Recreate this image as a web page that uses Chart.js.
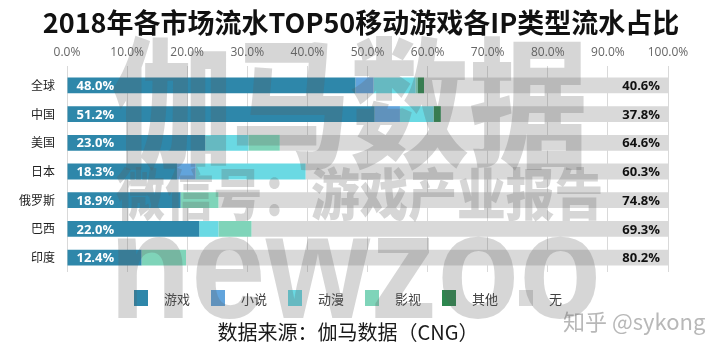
<!DOCTYPE html>
<html><head><meta charset="utf-8">
<script src="https://cdn.jsdelivr.net/npm/chart.js@4.4.1/dist/chart.umd.min.js"></script>
<style>
html,body{margin:0;padding:0;background:#fff;}
#wrap{position:relative;width:720px;height:357px;overflow:hidden;background:#fff;}
#c{position:absolute;left:0;top:0;}
#title{position:absolute;left:0;top:4px;width:722px;text-align:center;font:bold 27px "Noto Sans CJK SC",sans-serif;color:#111;line-height:36px;white-space:nowrap;}
#legend{position:absolute;top:289px;left:134px;display:flex;}
.li{width:77px;display:flex;align-items:center;height:18px;}
.sw{width:14px;height:16px;margin-right:16px;flex:none;}
.lt{font:13px "Noto Sans CJK SC",sans-serif;color:#404040;white-space:nowrap;}
#source{position:absolute;left:0;width:696px;top:318px;text-align:center;font:20px "Noto Sans CJK SC",sans-serif;color:#1a1a1a;line-height:28px;white-space:nowrap;}
#zhihu{position:absolute;left:563px;top:306px;font:22px "Noto Sans CJK SC",sans-serif;color:#b8b8b8;line-height:28px;white-space:nowrap;}
#wm{position:absolute;left:0;top:0;width:720px;height:357px;pointer-events:none;z-index:5;}
#wm div{position:absolute;white-space:nowrap;color:rgba(90,90,90,0.25);transform-origin:0 0;line-height:1;}
#wm1{left:112px;top:25px;font:900 140px "Noto Sans CJK SC",sans-serif;transform:scaleX(0.85);}
#wm2{left:116px;top:163px;font:900 56px "Noto Sans CJK SC",sans-serif;transform:scaleX(0.87);}
#wm3{left:109px;top:191px;font:bold 150px "Liberation Sans",sans-serif;transform:scaleX(0.895);}
</style>
</head>
<body>
<div id="wrap">
  <canvas id="c" width="720" height="357"></canvas>
  <div id="title">2018年各市场流水TOP50移动游戏各IP类型流水占比</div>
  <div id="legend"></div>
  <div id="source">数据来源：伽马数据（CNG）</div>
  <div id="zhihu">知乎 @sykong</div>
  <div id="wm">
    <div id="wm1">伽马数据</div>
    <div id="wm2">微信号：游戏产业报告</div>
    <div id="wm3">newzoo</div>
  </div>
</div>
<script>
// ---- data ----
const categories = ['全球','中国','美国','日本','俄罗斯','巴西','印度'];
const seriesNames = ['游戏','小说','动漫','影视','其他','无'];
const gameVals  = [48.0, 51.2, 23.0, 18.3, 18.9, 22.0, 12.4];
const novelVals = [3.0, 4.2, 0, 3.1, 0, 0, 0];
const animeVals = [7.0, 5.6, 7.2, 18.3, 0, 3.2, 0];
const filmVals  = [0.4, 0, 5.2, 0, 6.3, 5.5, 7.4];
const otherVals = [1.0, 1.2, 0, 0, 0, 0, 0];
const noneVals  = [40.6, 37.8, 64.6, 60.3, 74.8, 69.3, 80.2];
const xTicks = [0,10,20,30,40,50,60,70,80,90,100];

const seriesColors = ['#2e87aa','#62a4dc','#6ad9e3','#7fd4b9','#2d874e','#d9d9d9'];
const seriesData = [gameVals, novelVals, animeVals, filmVals, otherVals, noneVals];

// legend (HTML)
const lg = document.getElementById('legend');
seriesNames.forEach((n,i)=>{
  const it = document.createElement('div'); it.className='li';
  const sw = document.createElement('div'); sw.className='sw'; sw.style.background=seriesColors[i];
  const t = document.createElement('span'); t.className='lt'; t.textContent=n;
  it.appendChild(sw); it.appendChild(t); lg.appendChild(it);
});

const latin = '"Open Sans","Noto Sans CJK SC",sans-serif';

const labelPlugin = {
  id:'barLabels',
  afterDatasetsDraw(chart){
    const ctx = chart.ctx;
    ctx.save();
    ctx.font = 'bold 13px ' + latin;
    ctx.textBaseline = 'middle';
    chart.getDatasetMeta(0).data.forEach((bar,i)=>{
      const p = bar.getProps(['x','y','base'], true);
      ctx.fillStyle = '#ffffff'; ctx.textAlign = 'left';
      ctx.fillText(gameVals[i].toFixed(1)+'%', p.base + 9, p.y + 1);
    });
    chart.getDatasetMeta(5).data.forEach((bar,i)=>{
      const p = bar.getProps(['x','y','base'], true);
      ctx.fillStyle = '#111111'; ctx.textAlign = 'right';
      ctx.fillText(noneVals[i].toFixed(1)+'%', p.x - 8, p.y + 1);
    });
    ctx.restore();
  }
};

new Chart(document.getElementById('c'), {
  type: 'bar',
  data: {
    labels: categories,
    datasets: seriesNames.map((n,i)=>({
      label: n,
      data: seriesData[i],
      backgroundColor: seriesColors[i],
      borderWidth: 0,
      barPercentage: 0.55,
      categoryPercentage: 1.0
    }))
  },
  options: {
    indexAxis: 'y',
    responsive: false,
    devicePixelRatio: 1,
    animation: false,
    layout: { padding: { left: 0, right: 52, top: 41, bottom: 85 } },
    plugins: { legend: { display: false }, tooltip: { enabled: false }, title: { display: false } },
    scales: {
      x: {
        position: 'top',
        stacked: true,
        min: 0, max: 100,
        afterBuildTicks: (s)=>{ s.ticks = xTicks.map(v=>({value:v})); },
        afterFit: (s)=>{ s.height = 30; },
        ticks: {
          callback: (v)=> Number(v).toFixed(1)+'%',
          font: { size: 12, family: latin },
          color: '#666666',
          padding: 6,
          maxRotation: 0, autoSkip: false
        },
        grid: { color: '#d9d9d9', lineWidth: 1, tickLength: 5, drawTicks: true },
        border: { display: false }
      },
      y: {
        stacked: true,
        afterFit: (s)=>{ s.width = 67; },
        ticks: { font: { size: 12, family: '"Noto Sans CJK SC",sans-serif' }, color: '#222', padding: 12 },
        grid: { display: false, drawTicks: false },
        border: { display: false }
      }
    }
  },
  plugins: [labelPlugin]
});
</script>
</body></html>
